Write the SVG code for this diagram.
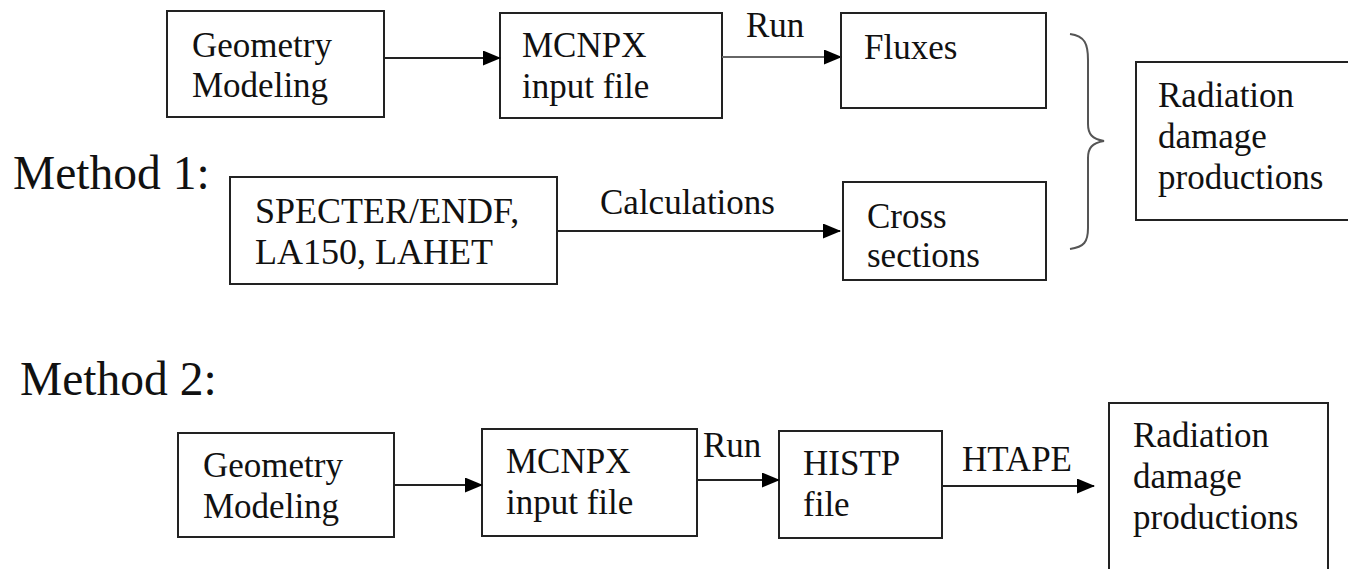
<svg xmlns="http://www.w3.org/2000/svg" width="1348" height="569" viewBox="0 0 1348 569" font-family="Liberation Serif, Times New Roman, serif">
<defs>
<style>
.box{fill:#fff;stroke:#222;stroke-width:2}
text{font-family:"Liberation Serif","Times New Roman",serif}
.t{font-size:35px;fill:#111}
.big{font-size:47.5px;fill:#111}
.c{stroke:#222;stroke-width:2;fill:none}
</style>
<marker id="ah" viewBox="0 0 18 15" refX="17" refY="7.5" markerWidth="18" markerHeight="15" markerUnits="userSpaceOnUse" orient="auto">
<path d="M0,0 L18,7.5 L0,15 Z" fill="#000"/>
</marker>
</defs>
<rect width="1348" height="569" fill="#fff"/>
<text class="big" x="13" y="189">Method 1:</text>
<text class="big" x="20" y="395">Method 2:</text>

<g id="m1-geometry"><rect class="box" x="167" y="11" width="217" height="106"/>
<text class="t" x="192" y="57">Geometry</text><text class="t" x="192" y="97">Modeling</text></g>
<g id="m1-mcnpx"><rect class="box" x="500" y="13" width="222" height="105"/>
<text class="t" x="522" y="57">MCNPX</text><text class="t" x="522" y="98">input file</text></g>
<g id="m1-fluxes"><rect class="box" x="841" y="13" width="205" height="95"/>
<text class="t" x="864" y="59">Fluxes</text></g>
<g id="m1-specter"><rect class="box" x="230" y="177" width="327" height="107"/>
<text class="t" x="255" y="223" style="font-size:36px">SPECTER/ENDF,</text><text class="t" x="255" y="264" style="font-size:36px">LA150, LAHET</text></g>
<g id="m1-cross"><rect class="box" x="843" y="182" width="203" height="98"/>
<text class="t" x="867" y="228">Cross</text><text class="t" x="867" y="267">sections</text></g>
<g id="m1-radiation"><rect class="box" x="1136" y="62" width="220" height="158"/>
<text class="t" x="1158" y="107">Radiation</text><text class="t" x="1158" y="148">damage</text><text class="t" x="1158" y="189">productions</text></g>

<g id="m2-geometry"><rect class="box" x="178" y="433" width="216" height="104"/>
<text class="t" x="203" y="477">Geometry</text><text class="t" x="203" y="518">Modeling</text></g>
<g id="m2-mcnpx"><rect class="box" x="482" y="429" width="215" height="107"/>
<text class="t" x="506" y="473">MCNPX</text><text class="t" x="506" y="514">input file</text></g>
<g id="m2-histp"><rect class="box" x="779" y="431" width="163" height="107"/>
<text class="t" x="803" y="475">HISTP</text><text class="t" x="803" y="516">file</text></g>
<g id="m2-radiation"><rect class="box" x="1109" y="403" width="219" height="180"/>
<text class="t" x="1133" y="447">Radiation</text><text class="t" x="1133" y="488">damage</text><text class="t" x="1133" y="529">productions</text></g>

<g id="connectors">
<line class="c" x1="384" y1="58" x2="500" y2="58" marker-end="url(#ah)"/>
<line class="c" x1="722" y1="57" x2="841" y2="57" marker-end="url(#ah)" style="stroke:#666"/>
<text class="t" x="746" y="37">Run</text>
<line class="c" x1="557" y1="231" x2="840" y2="231" marker-end="url(#ah)"/>
<text class="t" x="600" y="214">Calculations</text>
<path class="c" d="M1070,34 C1085,36 1088,44 1088,60 L1088,124 C1088,134 1092,139 1104,141 C1092,143 1088,148 1088,158 L1088,228 C1088,242 1084,247 1070,249" style="stroke:#555;stroke-width:2"/>
<line class="c" x1="394" y1="485" x2="482" y2="485" marker-end="url(#ah)"/>
<line class="c" x1="697" y1="480" x2="779" y2="480" marker-end="url(#ah)"/>
<text class="t" x="703" y="457">Run</text>
<line class="c" x1="942" y1="486" x2="1094" y2="486" marker-end="url(#ah)"/>
<text class="t" x="962" y="471">HTAPE</text>
</g>
</svg>
